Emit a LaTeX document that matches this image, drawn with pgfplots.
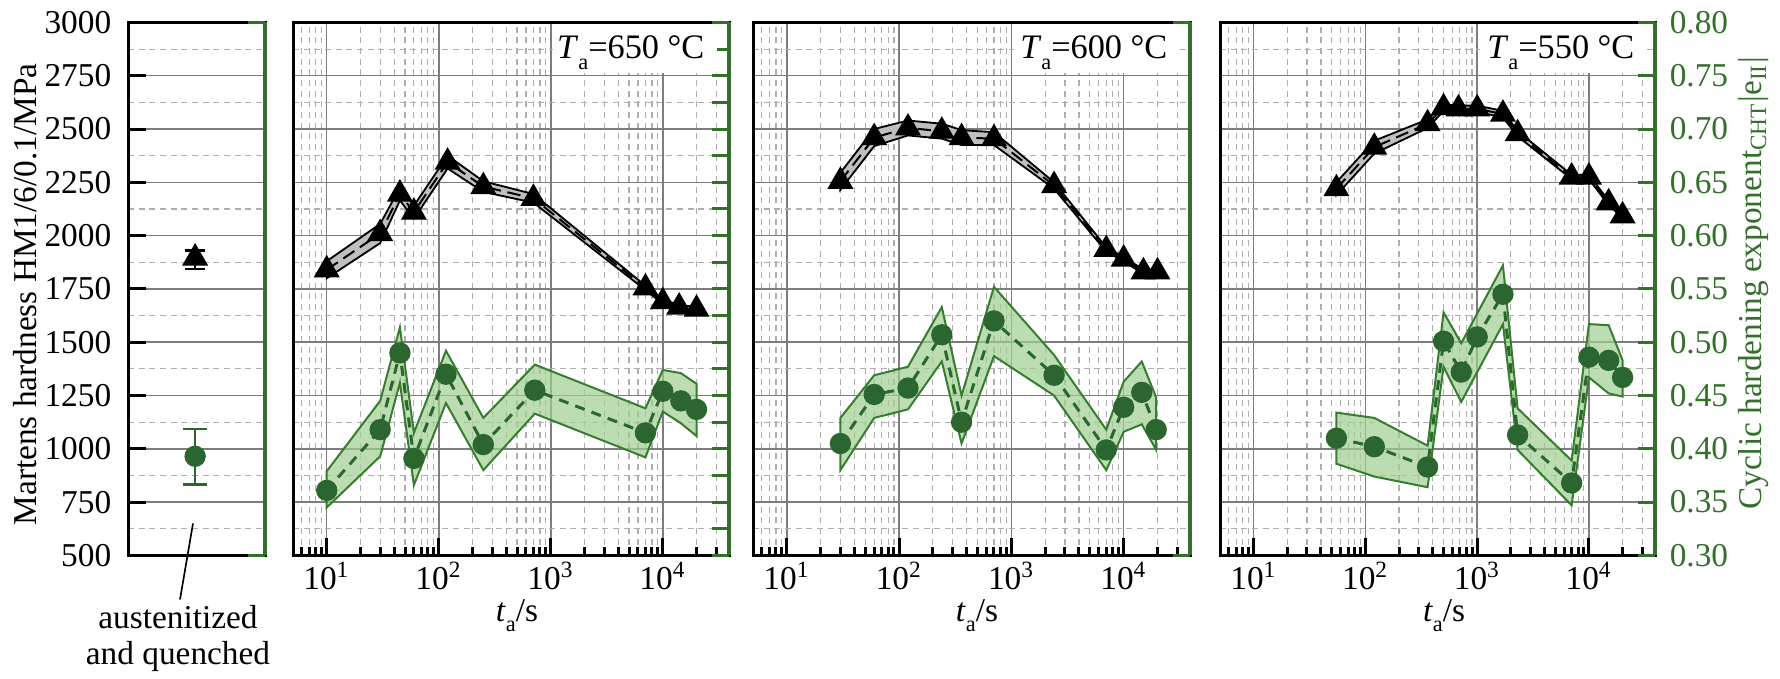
\documentclass[border=0pt]{standalone}
\usepackage{fontspec}
\setmainfont{Liberation Serif}
\usepackage{pgfplots}
\pgfplotsset{compat=1.18}
\usepackage{pgfplotstable}
\definecolor{dg}{RGB}{42,102,46}
\definecolor{ag}{RGB}{52,112,44}
\definecolor{bandg}{RGB}{160,205,145}
\definecolor{bandline}{RGB}{55,125,48}
\definecolor{gmaj}{RGB}{125,125,125}
\definecolor{gmin}{RGB}{175,175,175}

\pgfplotstableread{
t h
10 1840
30 2010
45 2195
60 2110
120 2345
250 2230
700 2175
7000 1755
10000 1690
14000 1665
20000 1655
}\kA
\pgfplotstableread{
t h
30 2255
60 2460
120 2505
240 2490
360 2460
700 2455
2400 2235
7000 1935
10000 1890
15000 1830
20000 1830
}\kB
\pgfplotstableread{
t h
55 2220
120 2415
360 2525
500 2600
680 2595
1000 2595
1700 2570
2300 2478
7000 2275
10000 2275
15000 2154
20000 2093
}\kC
\pgfplotstableread{
t e
10 0.361
30 0.418
45 0.490
60 0.391
116 0.470
250 0.404
720 0.455
7000 0.415
10000 0.454
14500 0.445
20000 0.437
}\gA
\pgfplotstableread{
t e
30 0.405
60 0.451
120 0.457
240 0.507
360 0.425
700 0.520
2400 0.469
7000 0.399
10000 0.439
14500 0.453
19500 0.418
}\gB
\pgfplotstableread{
t e
55 0.410
120 0.402
360 0.383
500 0.501
720 0.472
1000 0.505
1700 0.545
2300 0.413
7000 0.368
10000 0.486
15000 0.483
20000 0.467
}\gC

\newcommand\blackseries[2]{%
 \addplot[fill=gray!50, draw=black, line width=0.55pt] coordinates {#2} -- cycle;
 \addplot[draw=black, line width=0.6pt, dash pattern=on 4pt off 2pt] table[x=t,y=h]{#1};
 \addplot[only marks, mark=triangle*, mark size=4.1pt, black] table[x=t,y=h]{#1};
}
\newcommand\greenseries[2]{%
 \addplot[fill=bandg, fill opacity=0.7, draw=bandline, line width=0.6pt] coordinates {#2} -- cycle;
 \addplot[draw=dg, line width=0.9pt, dash pattern=on 3pt off 2.2pt] table[x=t,y=e]{#1};
 \addplot[only marks, mark=*, mark size=3pt, dg] table[x=t,y=e]{#1};
}

\begin{document}
\begin{tikzpicture}
\path (0,0) rectangle (534pt,203.1pt);

% ---------- left panel ----------
\begin{axis}[scale only axis, anchor=south west, at={(38.4pt,36.9pt)}, width=41.1pt, height=159.9pt,
  /pgf/number format/assume math mode=true, /pgf/number format/1000 sep={},
  tick label style={font=\fontsize{10}{12}\selectfont},
  xmin=0, xmax=1, ymin=500, ymax=3000, xtick=\empty,
  ytick={500,750,...,3000}, minor ytick={625,875,...,2875},
  ymajorgrids, yminorgrids,
  major grid style={draw=gmaj, line width=0.45pt},
  minor grid style={draw=gmin, line width=0.35pt, dash pattern=on 1.8pt off 1.4pt},
  tick align=inside, ytick pos=left, major tick length=5.4pt, minor tick length=0pt,
  ytick style={black, line width=0.9pt},
  yticklabel style={xshift=-1.5pt},
  axis line style={black, line width=0.9pt}]
 \addplot[only marks, mark=triangle*, mark size=4.1pt, black,
   error bars/.cd, y dir=both, y explicit,
   error bar style={black, line width=0.6pt},
   error mark options={rotate=90, black, mark size=3pt, line width=0.7pt}]
   coordinates {(0.49,1895) += (0,35) -= (0,50)};
\end{axis}
\begin{axis}[scale only axis, anchor=south west, at={(38.4pt,36.9pt)}, width=41.1pt, height=159.9pt,
  xmin=0, xmax=1, ymin=0.3, ymax=0.8,
  axis x line=none, axis y line*=right,
  y axis line style={draw=ag, line width=1.1pt, -}, ytick=\empty]
 \addplot[only marks, mark=*, mark size=3pt, dg,
   error bars/.cd, y dir=both, y explicit,
   error bar style={dg, line width=0.6pt},
   error mark options={rotate=90, dg, mark size=3.5pt, line width=0.7pt}]
   coordinates {(0.49,0.393) += (0,0.0254) -= (0,0.0266)};
\end{axis}

% ---------- Ta = 650 C ----------
\begin{axis}[scale only axis, anchor=south west, at={(87.9pt,36.9pt)}, width=130.8pt, height=159.9pt,
  tick label style={font=\fontsize{10}{12}\selectfont},
  xticklabel style={inner sep=1pt, yshift=-0.8pt},
  xmode=log, xmin=5, xmax=39000, ymin=500, ymax=3000,
  xtick={10,100,1000,10000},
  xticklabels={10\textsuperscript{1},10\textsuperscript{2},10\textsuperscript{3},10\textsuperscript{4}},
  minor xtick={5,6,7,8,9,20,30,40,50,60,70,80,90,200,300,400,500,600,700,800,900,2000,3000,4000,5000,6000,7000,8000,9000,20000,30000},
  ytick={500,750,...,3000}, minor ytick={625,875,...,2875}, yticklabels={},
  xmajorgrids, xminorgrids, ymajorgrids, yminorgrids,
  major grid style={draw=gmaj, line width=0.45pt},
  minor grid style={draw=gmin, line width=0.35pt, dash pattern=on 1.8pt off 1.4pt},
  tick align=inside, xtick pos=left, ytick pos=left,
  major tick length=5.2pt, minor tick length=2.5pt,
  xtick style={black, line width=0.9pt}, ytick style={draw=none},
  axis line style={black, line width=0.9pt}]
 \blackseries{\kA}{(10,1880) (30,2055) (45,2225) (60,2140) (120,2375) (250,2255) (700,2195) (7000,1765) (10000,1700) (14000,1675) (20000,1665) (20000,1645) (14000,1655) (10000,1680) (7000,1745) (700,2155) (250,2205) (120,2315) (60,2080) (45,2165) (30,1965) (10,1800)}
\end{axis}
\begin{axis}[scale only axis, anchor=south west, at={(87.9pt,36.9pt)}, width=130.8pt, height=159.9pt,
  xmode=log, xmin=5, xmax=39000, ymin=0.3, ymax=0.8,
  axis x line=none, axis y line*=right,
  y axis line style={draw=ag, line width=1.1pt, -},
  tick align=inside, major tick length=5pt,
  ytick style={draw=ag, line width=0.9pt},
  ytick={0.3,0.325,0.35,0.375,0.4,0.425,0.45,0.475,0.5,0.525,0.55,0.575,0.6,0.625,0.65,0.675,0.7,0.725,0.75,0.775,0.8},
  yticklabels={}]
 \greenseries{\gA}{(10,0.379) (30,0.445) (45,0.514) (60,0.415) (116,0.492) (250,0.429) (720,0.479) (7000,0.438) (10000,0.474) (14500,0.471) (20000,0.461) (20000,0.412) (14500,0.424) (10000,0.435) (7000,0.392) (720,0.433) (250,0.380) (116,0.443) (60,0.366) (45,0.462) (30,0.393) (10,0.345)}
\end{axis}

% ---------- Ta = 600 C ----------
\begin{axis}[scale only axis, anchor=south west, at={(225.9pt,36.9pt)}, width=131.1pt, height=159.9pt,
  tick label style={font=\fontsize{10}{12}\selectfont},
  xticklabel style={inner sep=1pt, yshift=-0.8pt},
  xmode=log, xmin=5, xmax=39000, ymin=500, ymax=3000,
  xtick={10,100,1000,10000},
  xticklabels={10\textsuperscript{1},10\textsuperscript{2},10\textsuperscript{3},10\textsuperscript{4}},
  minor xtick={5,6,7,8,9,20,30,40,50,60,70,80,90,200,300,400,500,600,700,800,900,2000,3000,4000,5000,6000,7000,8000,9000,20000,30000},
  ytick={500,750,...,3000}, minor ytick={625,875,...,2875}, yticklabels={},
  xmajorgrids, xminorgrids, ymajorgrids, yminorgrids,
  major grid style={draw=gmaj, line width=0.45pt},
  minor grid style={draw=gmin, line width=0.35pt, dash pattern=on 1.8pt off 1.4pt},
  tick align=inside, xtick pos=left, ytick pos=left,
  major tick length=5.2pt, minor tick length=2.5pt,
  xtick style={black, line width=0.9pt}, ytick style={draw=none},
  axis line style={black, line width=0.9pt}]
 \blackseries{\kB}{(30,2295) (60,2500) (120,2540) (240,2525) (360,2495) (700,2485) (2400,2250) (7000,1945) (10000,1900) (15000,1840) (20000,1840) (20000,1820) (15000,1820) (10000,1880) (7000,1925) (2400,2220) (700,2425) (360,2425) (240,2455) (120,2470) (60,2420) (30,2215)}
\end{axis}
\begin{axis}[scale only axis, anchor=south west, at={(225.9pt,36.9pt)}, width=131.1pt, height=159.9pt,
  xmode=log, xmin=5, xmax=39000, ymin=0.3, ymax=0.8,
  axis x line=none, axis y line*=right,
  y axis line style={draw=ag, line width=1.1pt, -}, ytick=\empty]
 \greenseries{\gB}{(30,0.429) (60,0.469) (120,0.477) (240,0.533) (360,0.450) (700,0.552) (2400,0.488) (7000,0.418) (10000,0.463) (14500,0.482) (19500,0.448) (19500,0.399) (14500,0.423) (10000,0.416) (7000,0.380) (2400,0.450) (700,0.487) (360,0.405) (240,0.482) (120,0.437) (60,0.429) (30,0.380)}
\end{axis}

% ---------- Ta = 550 C ----------
\begin{axis}[scale only axis, anchor=south west, at={(366pt,36.9pt)}, width=130.5pt, height=159.9pt,
  tick label style={font=\fontsize{10}{12}\selectfont},
  xticklabel style={inner sep=1pt, yshift=-0.8pt},
  xmode=log, xmin=5, xmax=39000, ymin=500, ymax=3000,
  xtick={10,100,1000,10000},
  xticklabels={10\textsuperscript{1},10\textsuperscript{2},10\textsuperscript{3},10\textsuperscript{4}},
  minor xtick={5,6,7,8,9,20,30,40,50,60,70,80,90,200,300,400,500,600,700,800,900,2000,3000,4000,5000,6000,7000,8000,9000,20000,30000},
  ytick={500,750,...,3000}, minor ytick={625,875,...,2875}, yticklabels={},
  xmajorgrids, xminorgrids, ymajorgrids, yminorgrids,
  major grid style={draw=gmaj, line width=0.45pt},
  minor grid style={draw=gmin, line width=0.35pt, dash pattern=on 1.8pt off 1.4pt},
  tick align=inside, xtick pos=left, ytick pos=left,
  major tick length=5.2pt, minor tick length=2.5pt,
  xtick style={black, line width=0.9pt}, ytick style={draw=none},
  axis line style={black, line width=0.9pt}]
 \blackseries{\kC}{(55,2250) (120,2445) (360,2545) (500,2615) (680,2610) (1000,2610) (1700,2585) (2300,2490) (7000,2285) (10000,2285) (15000,2164) (20000,2103) (20000,2083) (15000,2144) (10000,2265) (7000,2265) (2300,2466) (1700,2555) (1000,2580) (680,2580) (500,2585) (360,2505) (120,2385) (55,2190)}
\end{axis}
\begin{axis}[scale only axis, anchor=south west, at={(366pt,36.9pt)}, width=130.5pt, height=159.9pt,
  /pgf/number format/assume math mode=true,
  tick label style={font=\fontsize{10}{12}\selectfont},
  xmode=log, xmin=5, xmax=39000, ymin=0.3, ymax=0.8,
  axis x line=none, axis y line*=right,
  y axis line style={draw=ag, line width=1.1pt, -},
  tick align=inside, major tick length=5pt,
  ytick style={draw=ag, line width=0.9pt},
  ytick={0.3,0.35,0.4,0.45,0.5,0.55,0.6,0.65,0.7,0.75,0.8},
  yticklabel style={text=ag, /pgf/number format/fixed, /pgf/number format/fixed zerofill, /pgf/number format/precision=2, xshift=0.9pt}]
 \greenseries{\gC}{(55,0.434) (120,0.429) (360,0.403) (500,0.528) (720,0.499) (1000,0.527) (1700,0.572) (2300,0.438) (7000,0.389) (10000,0.517) (15000,0.516) (20000,0.483) (20000,0.449) (15000,0.452) (10000,0.467) (7000,0.347) (2300,0.399) (1700,0.517) (1000,0.472) (720,0.444) (500,0.477) (360,0.364) (120,0.374) (55,0.386)}
\end{axis}

% ---------- texts and green corner segments ----------
\begin{scope}[x=0.3pt, y=0.3pt, font=\fontsize{10}{12}\selectfont]
 \foreach \r in {265,729,1190,1655} {
   \draw[ag, line width=0.95pt] (\r-17,656) -- (\r,656);
   \draw[ag, line width=0.95pt] (\r-17,123) -- (\r,123);
 }
 \fill[white] (553,605) rectangle (717,654);
 \fill[white] (1014,605) rectangle (1178,654);
 \fill[white] (1480,605) rectangle (1643,654);
 \node[anchor=base east, inner sep=0pt, font=\fontsize{10.3}{12}\selectfont] at (705,620)
   {\textit{T}\raisebox{-3.3pt}{\fontsize{6.7}{7}\selectfont a}=650 °C};
 \node[anchor=base east, inner sep=0pt, font=\fontsize{10.3}{12}\selectfont] at (1168,620)
   {\textit{T}\raisebox{-3.3pt}{\fontsize{6.7}{7}\selectfont a}=600 °C};
 \node[anchor=base east, inner sep=0pt, font=\fontsize{10.3}{12}\selectfont] at (1635,620)
   {\textit{T}\raisebox{-3.3pt}{\fontsize{6.7}{7}\selectfont a}=550 °C};
 \node[anchor=base, inner sep=0pt] at (517,57) {\textit{t}\raisebox{-3pt}{\fontsize{6.7}{7}\selectfont a}/s};
 \node[anchor=base, inner sep=0pt] at (977,57) {\textit{t}\raisebox{-3pt}{\fontsize{6.7}{7}\selectfont a}/s};
 \node[anchor=base, inner sep=0pt] at (1444,57) {\textit{t}\raisebox{-3pt}{\fontsize{6.7}{7}\selectfont a}/s};
 \node[anchor=base, inner sep=0pt, rotate=90] at (37,384) {Martens hardness HM1/6/0.1/MPa};
 \node[anchor=base, inner sep=0pt, rotate=90, text=ag] at (1761,395)
   {Cyclic hardening exponent\textsubscript{CHT}|e\textsubscript{II}|};
 \node[anchor=base, inner sep=0pt] at (178,50) {austenitized};
 \node[anchor=base, inner sep=0pt] at (178,14) {and quenched};
 \draw[line width=0.5pt] (193,155) -- (180,79);
\end{scope}
\end{tikzpicture}
\end{document}
